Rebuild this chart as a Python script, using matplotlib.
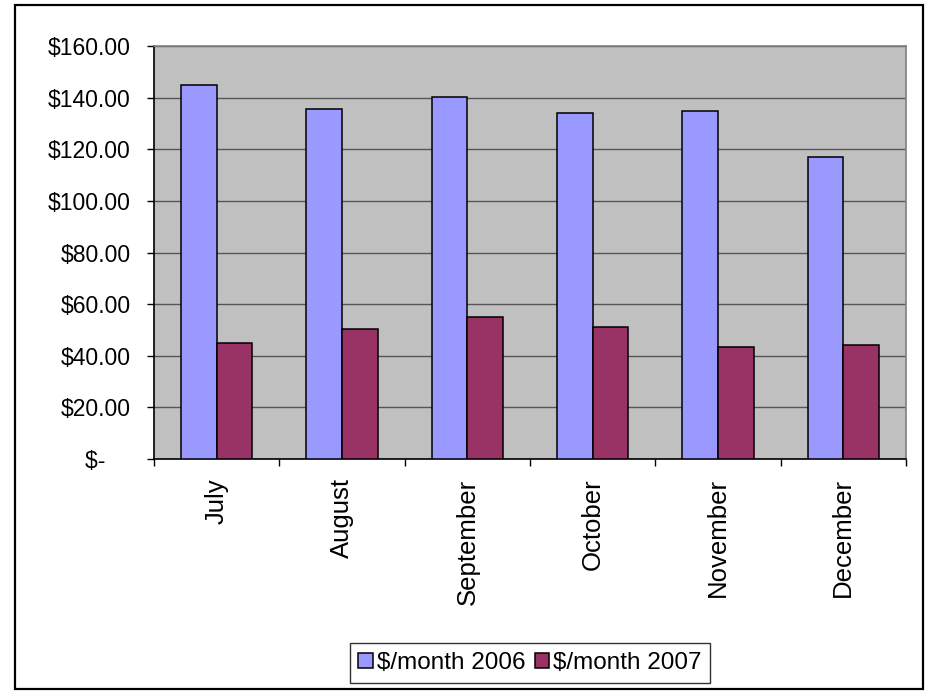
import numpy as np
import matplotlib
matplotlib.use('Agg')
import matplotlib.pyplot as plt
from matplotlib.patches import Rectangle

plt.rcParams['font.family'] = ['Liberation Sans', 'DejaVu Sans']

# datos
months = ['July', 'August', 'September', 'October', 'November', 'December']
cost_2006 = [145.0, 135.7, 140.3, 134.2, 135.0, 117.2]
cost_2007 = [45.1, 50.4, 55.0, 51.2, 43.4, 44.2]
y_ticks = [0, 20, 40, 60, 80, 100, 120, 140, 160]
y_labels = ['$-    ', '$20.00', '$40.00', '$60.00', '$80.00', '$100.00',
            '$120.00', '$140.00', '$160.00']

fig = plt.figure(figsize=(9.26, 6.91), dpi=100)
ax = fig.add_axes([0.1663, 0.3357, 0.8121, 0.5977])

# borde exterior del grafico
W, H = 926, 691
fig.patches.append(Rectangle((15 / W, 2 / H), 908 / W, 684 / H, transform=fig.transFigure,
                             fill=False, edgecolor='black', linewidth=1.6))

x = np.arange(len(months))
bw = 1 / 3.5
ax.bar(x - bw / 2, cost_2006, bw, color='#9999FF', edgecolor='black', linewidth=1.1,
       label='$/month 2006', zorder=3)
ax.bar(x + bw / 2, cost_2007, bw, color='#993366', edgecolor='black', linewidth=1.1,
       label='$/month 2007', zorder=3)

ax.set_facecolor('#C0C0C0')
ax.set_xlim(-0.5, len(months) - 0.5)
ax.set_ylim(0, 160)
ax.set_yticks(y_ticks)
ax.set_yticklabels(y_labels, fontsize=16.5)
ax.yaxis.grid(True, color='#555555', linewidth=1.0, zorder=1)
ax.tick_params(axis='y', direction='out', length=5, width=1, pad=12)

ax.set_xticks(x)
ax.set_xticklabels(months, rotation=90, fontsize=18.5, va='top')
ax.set_xticks(np.arange(len(months) + 1) - 0.5, minor=True)
ax.tick_params(axis='x', which='major', length=0, pad=14)
ax.tick_params(axis='x', which='minor', direction='out', length=5, width=1)

for s in ['top', 'right']:
    ax.spines[s].set_color('#808080')
    ax.spines[s].set_linewidth(1.2)
for s in ['left', 'bottom']:
    ax.spines[s].set_color('black')
    ax.spines[s].set_linewidth(1.2)

leg = fig.legend(loc='center', bbox_to_anchor=(530 / W, 1 - 663 / H), ncol=2, fontsize=17.5,
                 frameon=True, fancybox=False, edgecolor='black', handlelength=0.6,
                 handleheight=0.6, handletextpad=0.15, columnspacing=0.4,
                 borderpad=0.35, borderaxespad=0)
leg.get_frame().set_linewidth(1.0)

plt.savefig('out.png', dpi=100)
